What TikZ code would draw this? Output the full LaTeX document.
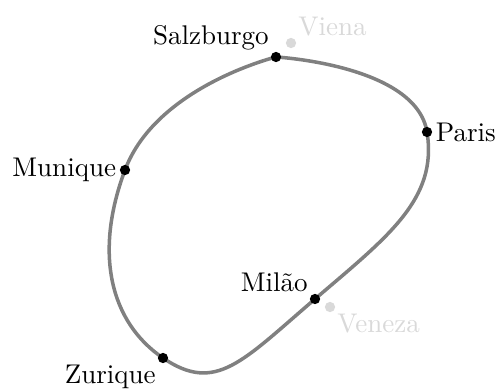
\documentclass[tikz,border=0pt]{standalone}
\begin{document}
\begin{tikzpicture}[x=0.37pt,y=-0.37pt,
  city/.style={circle,fill=black,inner sep=0pt,minimum size=3.8pt},
  ghost/.style={circle,fill=black!15,inner sep=0pt,minimum size=3.8pt},
  ghostlabel/.style={text=black!15},
  route/.style={draw=gray,line width=1.3pt}]
\useasboundingbox (0,0) rectangle (497,390);
\draw[route] plot[smooth,tension=1] coordinates {(276,57) (427,132) (315,299) (163,358) (125,170) (276,57)};
\node[city,label={[anchor=south east,inner sep=1pt]north west:Salzburgo}] (salz) at (276,57) {};
\node[ghost,label={[ghostlabel,anchor=south west,inner sep=1pt]north east:Viena}] (vie) at (291,43) {};
\node[city,label={[inner sep=1pt]right:Paris}] (par) at (427,132) {};
\node[city,label={[inner sep=1pt]left:Munique}] (mun) at (125,170) {};
\node[city,label={[anchor=south east,inner sep=1pt]north west:Milão}] (mil) at (315,299) {};
\node[ghost,label={[ghostlabel,anchor=north west,inner sep=1pt]south east:Veneza}] (ven) at (330,307) {};
\node[city,label={[anchor=north east,inner sep=1pt]south west:Zurique}] (zur) at (163,358) {};
\end{tikzpicture}
\end{document}
